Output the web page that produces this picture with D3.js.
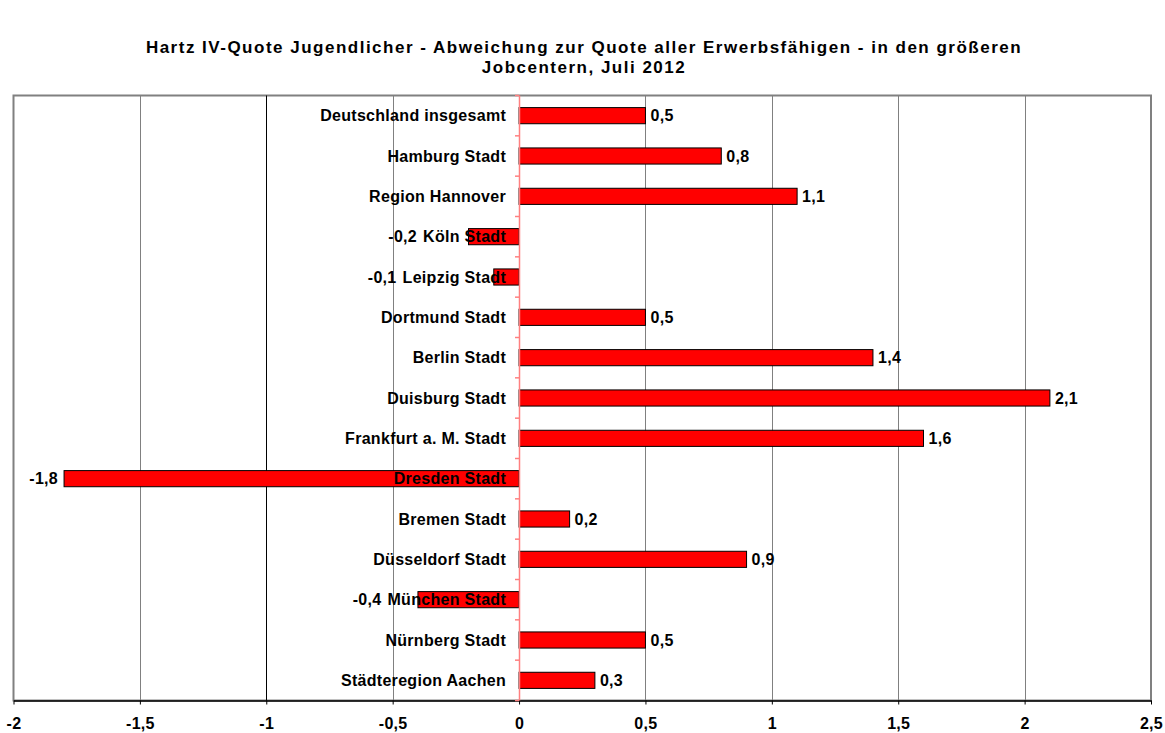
<!DOCTYPE html>
<html>
<head>
<meta charset="utf-8">
<script src="https://cdn.jsdelivr.net/npm/d3@7"></script>
<style>
	body { margin: 0; background: #fff; }
	text { font-family: "Liberation Sans", Arial, sans-serif; font-weight: bold; }
</style>
</head>
<body>
<div id="graph"></div>
<script>
// data
var categories = ["Deutschland insgesamt", "Hamburg Stadt", "Region Hannover", "Köln Stadt", "Leipzig Stadt",
	"Dortmund Stadt", "Berlin Stadt", "Duisburg Stadt", "Frankfurt a. M. Stadt", "Dresden Stadt",
	"Bremen Stadt", "Düsseldorf Stadt", "München Stadt", "Nürnberg Stadt", "Städteregion Aachen"];
var values = [0.5, 0.8, 1.1, -0.2, -0.1, 0.5, 1.4, 2.1, 1.6, -1.8, 0.2, 0.9, -0.4, 0.5, 0.3];
var xTicks = [-2, -1.5, -1, -0.5, 0, 0.5, 1, 1.5, 2, 2.5];
var titleLines = ["Hartz IV-Quote Jugendlicher - Abweichung zur Quote aller Erwerbsfähigen - in den größeren",
	"Jobcentern, Juli 2012"];

var w = 1165, h = 733;
var plotLeft = 13.5, plotRight = 1151, plotTop = 95.5, plotBottom = 700.5;

var de = d3.formatLocale({decimal: ",", thousands: ".", grouping: [3], currency: ["", " €"], minus: "-"});
var fmt = function (v) { return de.format("")(Math.round(v * 10) / 10); };

var svg = d3.select("#graph").append("svg")
	.attr("width", w)
	.attr("height", h);

var xScale = d3.scaleLinear().domain([-2, 2.5]).range([plotLeft, plotRight]);
var yScale = d3.scaleBand().domain(categories).range([plotTop, plotBottom]).paddingInner(0.6).paddingOuter(0.3);
var bandStep = (plotBottom - plotTop) / categories.length;

// title
svg.selectAll(".title")
	.data(titleLines)
	.enter()
	.append("text")
	.attr("class", "title")
	.attr("x", 584)
	.attr("y", function (d, i) { return 53 + i * 20; })
	.attr("text-anchor", "middle")
	.style("font-size", "17px")
	.style("letter-spacing", "1.5px")
	.text(function (d) { return d; });

// plot frame
svg.append("rect")
	.attr("x", plotLeft)
	.attr("y", plotTop)
	.attr("width", plotRight - plotLeft)
	.attr("height", plotBottom - plotTop)
	.attr("fill", "none")
	.attr("stroke", "#808080")
	.attr("stroke-width", 2);

// gridlines
svg.selectAll(".grid")
	.data(xTicks.filter(function (d) { return d != 0 && d != -2 && d != 2.5; }))
	.enter()
	.append("line")
	.attr("class", "grid")
	.attr("x1", function (d) { return Math.round(xScale(d)) + 0.5; })
	.attr("x2", function (d) { return Math.round(xScale(d)) + 0.5; })
	.attr("y1", plotTop)
	.attr("y2", plotBottom)
	.attr("stroke", function (d) { return d == -1 ? "#000" : "#808080"; })
	.attr("stroke-width", 1);

// x axis
var xAxis = d3.axisBottom(xScale)
	.tickValues(xTicks)
	.tickSize(4)
	.tickSizeOuter(0)
	.tickFormat(fmt);

var gx = svg.append("g")
	.attr("transform", "translate(0," + plotBottom + ")")
	.call(xAxis);
gx.select(".domain").attr("stroke", "#000").attr("stroke-width", 1.5);
gx.selectAll(".tick line").attr("stroke", "#000");
gx.selectAll(".tick text")
	.attr("y", 17)
	.attr("dy", "0.71em")
	.style("font-size", "16px")
	.style("letter-spacing", "0.3px")
	.style("font-family", "'Liberation Sans', Arial, sans-serif")
	.attr("fill", "#000");

// bars
var x0 = xScale(0);
svg.selectAll(".bar")
	.data(values)
	.enter()
	.append("rect")
	.attr("class", "bar")
	.attr("x", function (d) { return Math.min(xScale(d), x0); })
	.attr("y", function (d, i) { return yScale(categories[i]); })
	.attr("width", function (d) { return Math.abs(xScale(d) - x0); })
	.attr("height", yScale.bandwidth())
	.attr("fill", "#ff0000")
	.attr("stroke", "#000")
	.attr("stroke-width", 1);

// zero axis with category ticks
svg.append("line")
	.attr("x1", Math.round(x0) + 0.5)
	.attr("x2", Math.round(x0) + 0.5)
	.attr("y1", plotTop)
	.attr("y2", plotBottom)
	.attr("stroke", "#ff8080")
	.attr("stroke-width", 1.5);

svg.selectAll(".ctick")
	.data(d3.range(categories.length + 1))
	.enter()
	.append("line")
	.attr("class", "ctick")
	.attr("x1", Math.round(x0) - 4)
	.attr("x2", Math.round(x0))
	.attr("y1", function (i) { return plotTop + i * bandStep; })
	.attr("y2", function (i) { return plotTop + i * bandStep; })
	.attr("stroke", "#ff8080")
	.attr("stroke-width", 1.5);

// category labels
var catLabels = svg.selectAll(".cat")
	.data(categories)
	.enter()
	.append("text")
	.attr("class", "cat")
	.attr("x", x0 - 13)
	.attr("y", function (d) { return yScale(d) + yScale.bandwidth() / 2; })
	.attr("dy", "0.35em")
	.attr("text-anchor", "end")
	.style("font-size", "16px")
	.style("letter-spacing", "0.3px")
	.attr("fill", "#000")
	.text(function (d) { return d; });

var catStart = [];
catLabels.each(function () { catStart.push(x0 - 13 - this.getComputedTextLength()); });

// value labels: negatives sit left of the bar end or the category label, whichever is further left
svg.selectAll(".val")
	.data(values)
	.enter()
	.append("text")
	.attr("class", "val")
	.attr("x", function (d, i) {
		if (d >= 0) return xScale(d) + 5;
		return Math.min(xScale(d), catStart[i]) - 6;
	})
	.attr("y", function (d, i) { return yScale(categories[i]) + yScale.bandwidth() / 2; })
	.attr("dy", "0.35em")
	.attr("text-anchor", function (d) { return d >= 0 ? "start" : "end"; })
	.style("font-size", "16px")
	.style("letter-spacing", "0.3px")
	.attr("fill", "#000")
	.text(function (d) { return fmt(d); });
</script>
</body>
</html>
